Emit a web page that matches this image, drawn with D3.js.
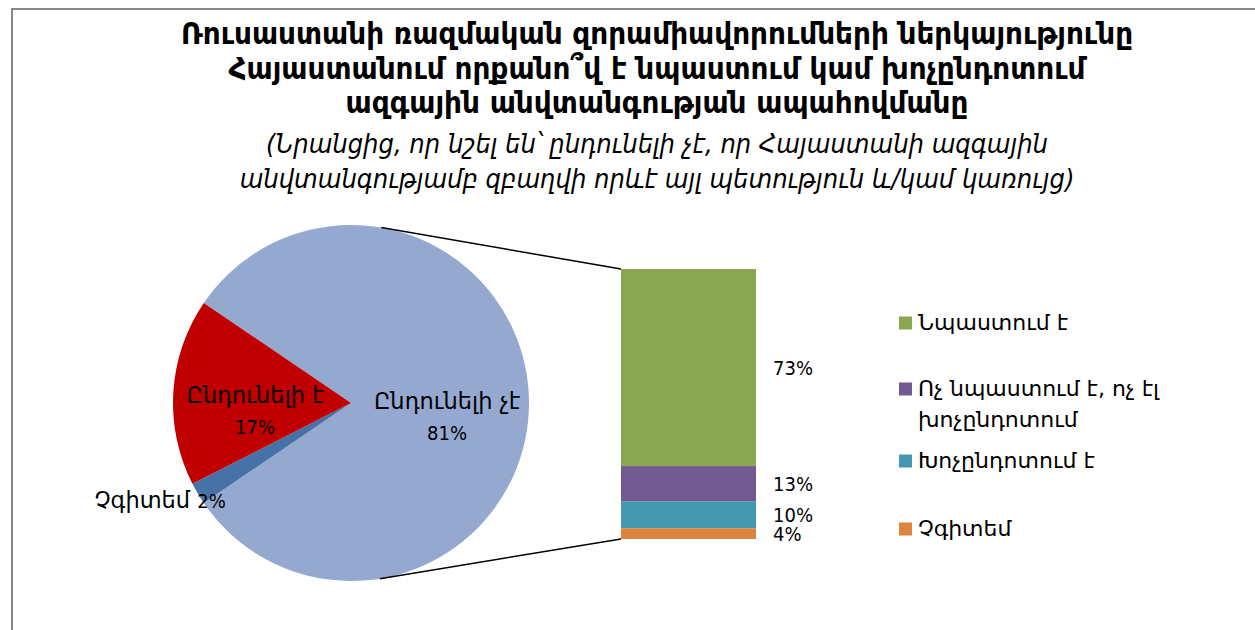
<!DOCTYPE html>
<html>
<head>
<meta charset="utf-8">
<script src="https://cdn.jsdelivr.net/npm/d3@7"></script>
<style>
  html, body { margin: 0; padding: 0; background: #fff; }
  svg text { font-family: 'DejaVu Sans', sans-serif; fill: #000; }
  svg text.cond { font-family: 'DejaVu Sans Condensed', 'DejaVu Sans', sans-serif; font-stretch: condensed; }
</style>
</head>
<body>
<svg id="chart"></svg>
<script>
/* global d3 */

// Title and subtitle lines
const titleLines = [
  'Ռուսաստանի ռազմական զորամիավորումների ներկայությունը',
  'Հայաստանում որքանո՞վ է նպաստում կամ խոչընդոտում',
  'ազգային անվտանգության ապահովմանը'
]
const subtitleLines = [
  '(Նրանցից, որ նշել են՝ ընդունելի չէ, որ Հայաստանի ազգային',
  'անվտանգությամբ զբաղվի որևէ այլ պետություն և/կամ կառույց)'
]

// Pie data (first slice is the one broken out into the bar)
const pieLabels = ['Ընդունելի չէ', 'Չգիտեմ', 'Ընդունելի է']
const pieValues = [81, 2, 17]
const pieColors = ['#95a9d0', '#4672a8', '#c00000']

// Bar data (top to bottom)
const barLabels = ['Նպաստում է', 'Ոչ նպաստում է, ոչ էլ խոչընդոտում', 'Խոչընդոտում է', 'Չգիտեմ']
const barValues = [73, 13, 10, 4]
const barColors = ['#8aa650', '#725990', '#4398af', '#dd843e']
const legendLines = [['Նպաստում է'], ['Ոչ նպաստում է, ոչ էլ', 'խոչընդոտում'], ['Խոչընդոտում է'], ['Չգիտեմ']]

const svgWidth = 1255
const svgHeight = 630

const svg = d3.select('#chart')
  .attr('width', svgWidth)
  .attr('height', svgHeight)

// Chart border (chart area is cut off at right and bottom)
svg.append('rect')
  .attr('x', 12)
  .attr('y', 9)
  .attr('width', 1400)
  .attr('height', 800)
  .attr('fill', 'none')
  .attr('stroke', '#868686')
  .attr('stroke-width', 2)

// Title
const titleX = 657
svg.append('g')
  .selectAll('text')
  .data(titleLines)
  .enter()
  .append('text')
  .attr('class', 'cond')
  .attr('x', titleX)
  .attr('y', (d, i) => 44 + i * 34.5)
  .attr('text-anchor', 'middle')
  .style('font-size', '31px')
  .style('font-weight', 'bold')
  .text(d => d)

svg.append('g')
  .selectAll('text')
  .data(subtitleLines)
  .enter()
  .append('text')
  .attr('class', 'cond')
  .attr('x', titleX)
  .attr('y', (d, i) => 153 + i * 35)
  .attr('text-anchor', 'middle')
  .style('font-size', '27px')
  .style('font-style', 'italic')
  .text(d => d)

// Pie
const cx = 351
const cy = 403
const radius = 178
const total = d3.sum(pieValues)
const startAngle = Math.PI / 2 - Math.PI * pieValues[0] / total

const pie = d3.pie()
  .sort(null)
  .startAngle(startAngle)
  .endAngle(startAngle + 2 * Math.PI)

const arcs = pie(pieValues)
const arc = d3.arc().innerRadius(0).outerRadius(radius)
const labelArc = d3.arc().innerRadius(radius * 0.54).outerRadius(radius * 0.54)

const pieGroup = svg.append('g')
  .attr('transform', `translate(${cx}, ${cy})`)

pieGroup.selectAll('path')
  .data(arcs)
  .enter()
  .append('path')
  .attr('d', arc)
  .attr('fill', (d, i) => pieColors[i])

// Inside labels for the two large slices
arcs.forEach((d, i) => {
  if (pieValues[i] < 5) return
  const [lx, ly] = labelArc.centroid(d)
  pieGroup.append('text')
    .attr('x', lx)
    .attr('y', ly + 6)
    .attr('text-anchor', 'middle')
    .style('font-size', '22.5px')
    .text(pieLabels[i])
  pieGroup.append('text')
    .attr('class', 'cond')
    .attr('x', lx)
    .attr('y', ly + 37)
    .attr('text-anchor', 'middle')
    .style('font-size', '20px')
    .text(pieValues[i] + '%')
})

// Outside label for the small slice
arcs.forEach((d, i) => {
  if (pieValues[i] >= 5) return
  const mid = (d.startAngle + d.endAngle) / 2
  const px = Math.sin(mid) * radius
  const py = -Math.cos(mid) * radius
  const t = pieGroup.append('text')
    .attr('x', px + 28)
    .attr('y', py + 14)
    .attr('text-anchor', 'end')
    .style('font-size', '22.5px')
  t.append('tspan').text(pieLabels[i] + ' ')
  t.append('tspan')
    .style('font-family', "'DejaVu Sans Condensed', 'DejaVu Sans', sans-serif")
    .style('font-stretch', 'condensed')
    .style('font-size', '20px')
    .text(pieValues[i] + '%')
})

// Stacked bar
const barX = 621
const barW = 135
const y = d3.scaleLinear()
  .domain([0, d3.sum(barValues)])
  .range([269, 539])

const stacked = barValues.map((v, i) => ({
  label: barLabels[i],
  value: v,
  y0: d3.sum(barValues.slice(0, i)),
  y1: d3.sum(barValues.slice(0, i + 1))
}))

svg.append('g')
  .selectAll('rect')
  .data(stacked)
  .enter()
  .append('rect')
  .attr('x', barX)
  .attr('y', d => y(d.y0))
  .attr('width', barW)
  .attr('height', d => y(d.y1) - y(d.y0))
  .attr('fill', (d, i) => barColors[i])

svg.append('g')
  .selectAll('text')
  .data(stacked)
  .enter()
  .append('text')
  .attr('class', 'cond')
  .attr('x', barX + barW + 17)
  .attr('y', d => (y(d.y0) + y(d.y1)) / 2 + 7)
  .style('font-size', '20px')
  .text(d => d.value + '%')

// Connector lines: tangents from bar corners to the pie
function tangentPoint (px, py, upper) {
  const dx = px - cx
  const dy = py - cy
  const d = Math.hypot(dx, dy)
  const base = Math.atan2(dy, dx)
  const off = Math.acos(radius / d)
  const a = upper ? base - off : base + off
  return [cx + radius * Math.cos(a), cy + radius * Math.sin(a)]
}

const topCorner = [barX, y.range()[0]]
const bottomCorner = [barX, y.range()[1]]
const connectors = [
  [tangentPoint(topCorner[0], topCorner[1], true), topCorner],
  [tangentPoint(bottomCorner[0], bottomCorner[1], false), bottomCorner]
]

svg.append('g')
  .selectAll('line')
  .data(connectors)
  .enter()
  .append('line')
  .attr('x1', d => d[0][0])
  .attr('y1', d => d[0][1])
  .attr('x2', d => d[1][0])
  .attr('y2', d => d[1][1])
  .attr('stroke', '#000')
  .attr('stroke-width', 1.5)

// Legend
const legendY = [323, 389, 461, 529]
const legend = svg.append('g')
  .attr('transform', 'translate(899, 0)')

legend.selectAll('rect')
  .data(barColors)
  .enter()
  .append('rect')
  .attr('x', 0)
  .attr('y', (d, i) => legendY[i] - 6.5)
  .attr('width', 13)
  .attr('height', 13)
  .attr('fill', d => d)

legendLines.forEach((lines, i) => {
  const t = legend.append('text')
    .style('font-size', '22px')
  lines.forEach((line, j) => {
    t.append('tspan')
      .attr('x', 19)
      .attr('y', legendY[i] + 7 + j * 31)
      .text(line)
  })
})
</script>
</body>
</html>
